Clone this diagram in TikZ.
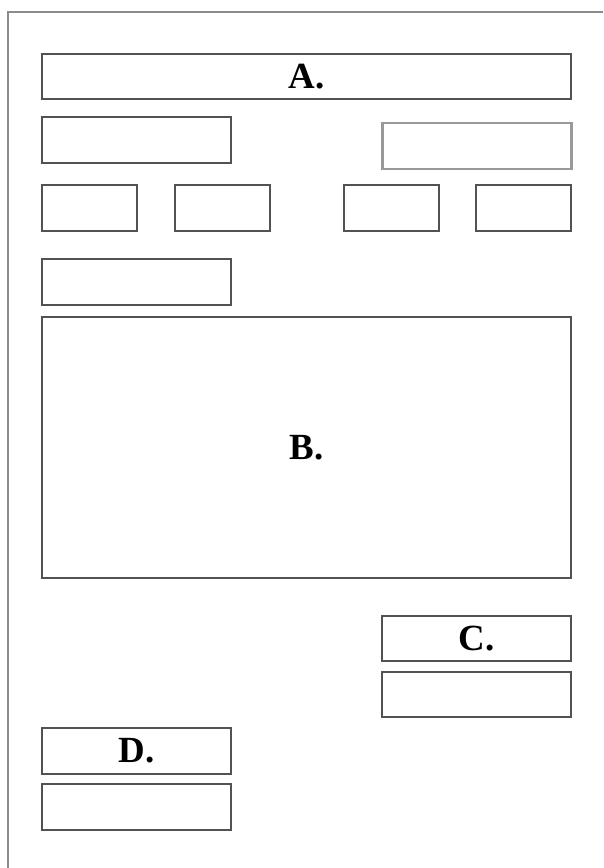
\documentclass[tikz,border=0pt]{standalone}
\usepackage{fontspec}
\setmainfont{Liberation Serif}

\tikzset{
  panel/.style={draw=black!68, line width=1.1pt, inner sep=0pt,
    font=\fontsize{21}{25}\selectfont\bfseries},
  wide/.style={minimum width=10.58cm},
  half/.style={minimum width=3.78cm, minimum height=0.91cm},
  small/.style={minimum width=1.9cm, minimum height=0.92cm},
}

\begin{document}
\begin{tikzpicture}[x=0.02cm,y=-0.02cm]
\useasboundingbox (0,0) rectangle (603,868);
% page edge
\draw [black!45, line width=1.1pt]
     (8,868)
  -- (8,12)
  -- (603,12);
% top part
\node[panel, wide, minimum height=0.9cm] (head) at (306.5,76.5) {A.};
\node[panel, half] (left) at (136.5,140) {};
\node[panel, half, draw=black!40, line width=1.4pt] (right) at (477,146) {};
\foreach \x/\n in {89.5/s1, 222.5/s2, 391.5/s3, 523.5/s4}
  \node[panel, small] (\n) at (\x,208) {};
\node[panel, half] (under) at (136.5,282) {};
% main field
\node[panel, wide, minimum height=5.22cm] (body) at (306.5,447.5) {B.};
% bottom part
\node[panel, half] (cbox) at (476.5,638.5) {C.};
\node[panel, half] (cfield) at (476.5,694.5) {};
\node[panel, half] (dbox) at (136.5,751) {D.};
\node[panel, half] (dfield) at (136.5,807) {};
\end{tikzpicture}
\end{document}
